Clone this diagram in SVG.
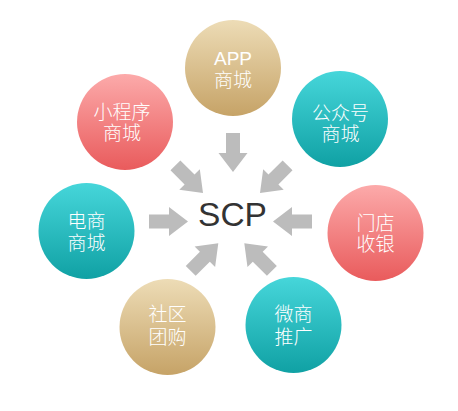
<svg xmlns="http://www.w3.org/2000/svg" width="458" height="411" viewBox="0 0 458 411">
<defs>
<linearGradient id="gold" x1="0" y1="0" x2="0" y2="1"><stop offset="0" stop-color="#eddcb6"/><stop offset="1" stop-color="#c6a367"/></linearGradient>
<linearGradient id="pink" x1="0" y1="0" x2="0" y2="1"><stop offset="0" stop-color="#fcaaaa"/><stop offset="1" stop-color="#e95b5c"/></linearGradient>
<linearGradient id="teal" x1="0" y1="0" x2="0" y2="1"><stop offset="0" stop-color="#46d6da"/><stop offset="1" stop-color="#10a1a4"/></linearGradient>
<polygon id="arr" points="-39,-7 -19,-7 -19,-14.5 0,0 -19,14.5 -19,7 -39,7"/>
</defs>
<style>
.lbl{fill:#ffffff;font-family:"Liberation Sans","Noto Sans CJK SC",sans-serif;font-size:19px;font-weight:300;text-anchor:middle}
.arrow{fill:#bcbcbc}
.scp{fill:#333333;font-family:"Liberation Sans",sans-serif;font-size:33.5px;text-anchor:middle}
</style>
<rect width="458" height="411" fill="#ffffff"/>
<g id="connectors" class="arrow">
<use href="#arr" transform="translate(233,172) rotate(90)"/>
<use href="#arr" transform="translate(188,221.5)"/>
<use href="#arr" transform="translate(273,221.5) rotate(180)"/>
<use href="#arr" transform="translate(203,193) rotate(45)"/>
<use href="#arr" transform="translate(260,193) rotate(135)"/>
<use href="#arr" transform="translate(218.3,243.3) rotate(-45)"/>
<use href="#arr" transform="translate(244.3,243.3) rotate(-135)"/>
</g>
<g id="scp"><text class="scp" x="232.5" y="226">SCP</text></g>
<g id="app"><circle cx="233" cy="68" r="48" fill="url(#gold)"/><text class="lbl" x="233" y="65">APP</text><text class="lbl" x="233" y="86.5">商城</text></g>
<g id="miniprogram"><circle cx="125" cy="122" r="48" fill="url(#pink)"/><text class="lbl" x="122" y="118.5">小程序</text><text class="lbl" x="122" y="140">商城</text></g>
<g id="gzh"><circle cx="340" cy="119" r="48" fill="url(#teal)"/><text class="lbl" x="340.5" y="119.5">公众号</text><text class="lbl" x="340.5" y="141">商城</text></g>
<g id="ds"><circle cx="86.5" cy="231" r="48" fill="url(#teal)"/><text class="lbl" x="86.5" y="228">电商</text><text class="lbl" x="86.5" y="249.5">商城</text></g>
<g id="md"><circle cx="375.5" cy="233" r="48" fill="url(#pink)"/><text class="lbl" x="375.5" y="229.5">门店</text><text class="lbl" x="375.5" y="251">收银</text></g>
<g id="sq"><circle cx="167.5" cy="327" r="48" fill="url(#gold)"/><text class="lbl" x="167.5" y="321">社区</text><text class="lbl" x="167.5" y="343.5">团购</text></g>
<g id="ws"><circle cx="293.5" cy="325" r="48" fill="url(#teal)"/><text class="lbl" x="293.5" y="321">微商</text><text class="lbl" x="293.5" y="343.5">推广</text></g>
</svg>
